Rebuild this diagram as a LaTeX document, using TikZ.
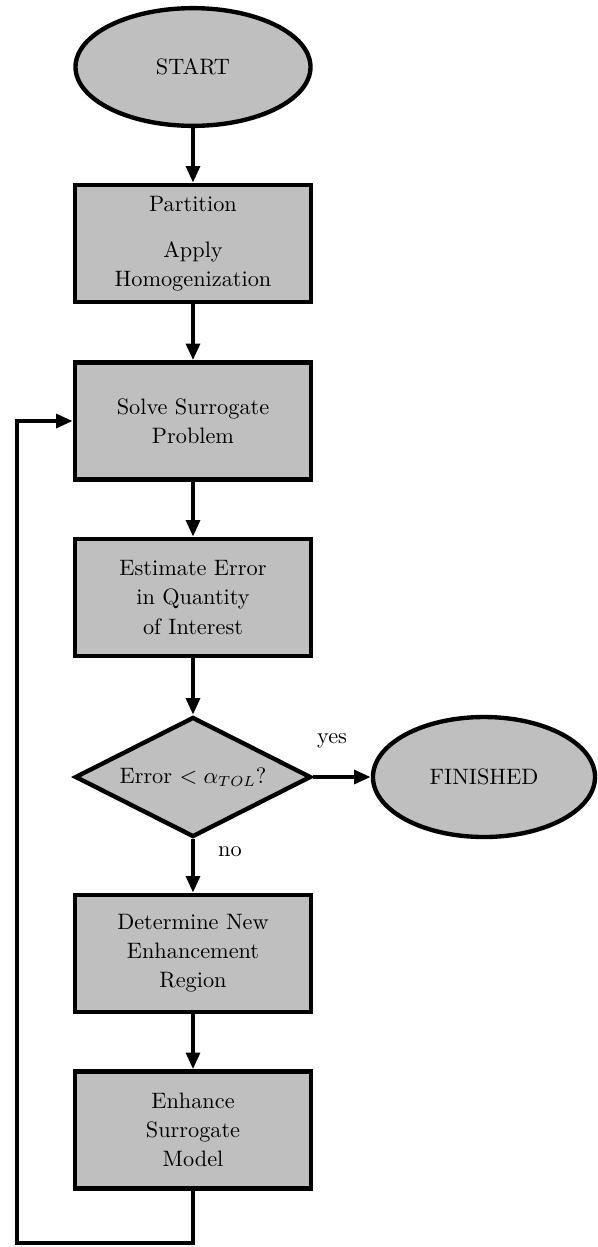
\documentclass[tikz,border=0pt]{standalone}
\usetikzlibrary{shapes.geometric,arrows.meta}
\begin{document}
\begin{tikzpicture}[x=0.48pt,y=-0.48pt,
  base/.style={draw=black,line width=2.1pt,fill=black!25,align=center,inner sep=0pt,
    font={\fontsize{10.7}{14}\selectfont}},
  procbox/.style={base,rectangle,minimum width=113.3pt,minimum height=56.2pt},
  termnode/.style={base,ellipse,minimum width=112.8pt,minimum height=56.5pt},
  decnode/.style={base,diamond,aspect=2,minimum width=113.3pt,minimum height=57.6pt},
  flow/.style={line width=2pt,-{Triangle[length=8pt,width=6.5pt]}},
  lbl/.style={font={\fontsize{10.7}{12}\selectfont},inner sep=0pt}]
\useasboundingbox (0,0) rectangle (597,1247);
\node[termnode] (start) at (193,67) {START};
\node[procbox] (part) at (193,243.5) {Partition\\[8pt]Apply\\Homogenization};
\node[procbox] (solve) at (193,421) {Solve Surrogate\\Problem};
\node[procbox] (est) at (193,597.5) {Estimate Error\\in Quantity\\of Interest};
\node[decnode] (dec) at (193,777) {Error $<\alpha_{TOL}$?};
\node[termnode,minimum width=106.6pt,minimum height=57.6pt] (fin) at (484,777) {FINISHED};
\node[procbox] (det) at (193,953.5) {Determine New\\Enhancement\\Region};
\node[procbox] (enh) at (193,1130) {Enhance\\Surrogate\\Model};
\coordinate (c1) at (193,1243);
\coordinate (c2) at (17,1243);
\draw[flow] (start) -- (part);
\draw[flow] (part) -- (solve);
\draw[flow] (solve) -- (est);
\draw[flow] (est) -- (dec);
\draw[flow] (dec) -- (fin);
\draw[flow] (dec) -- (det);
\draw[flow] (det) -- (enh);
\draw[flow] (enh.south) -- (c1) -- (c2) |- (solve.west);
\node[lbl] (yes) at (332,741) {yes};
\node[lbl] (no) at (230,852) {no};
\end{tikzpicture}
\end{document}
